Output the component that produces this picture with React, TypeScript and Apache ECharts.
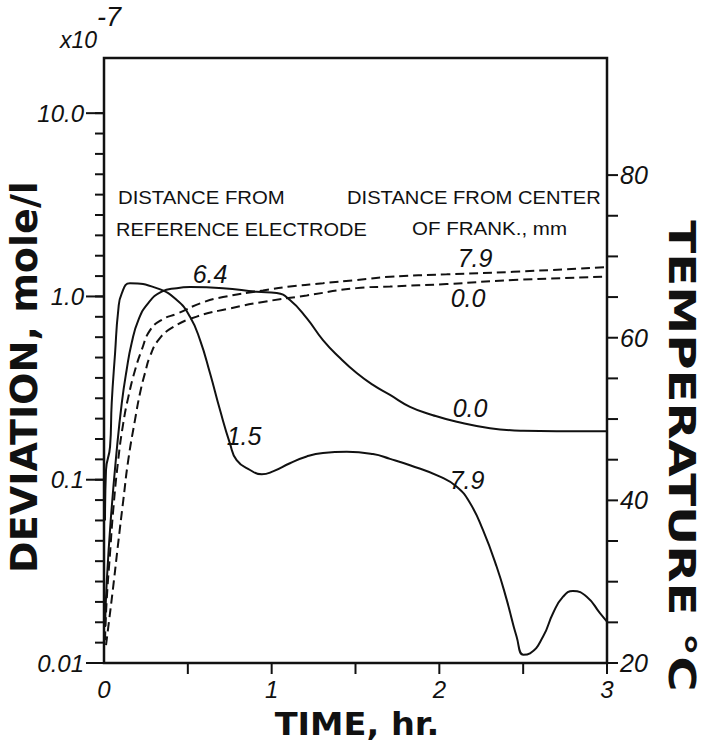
import React, { useEffect, useRef } from 'react';
import * as echarts from 'echarts';

// ---- Data ----
// Solid curve: early peak, labelled 1.5 ... 7.9 (deviation, x1e-7 mole/l)
const curveATime = [0.006, 0.012, 0.036, 0.046, 0.066, 0.085, 0.106, 0.155, 0.314, 0.434, 0.513, 0.573, 0.632, 0.692, 0.751, 0.791, 0.871, 0.941, 1.008, 1.109, 1.209, 1.306, 1.448, 1.604, 1.706, 1.825, 2.004, 2.104, 2.183, 2.26, 2.342, 2.402, 2.461, 2.501, 2.541, 2.618, 2.678, 2.738, 2.797, 2.879, 2.958, 3.0];
const curveADev = [0.06, 0.113, 0.151, 0.262, 0.49, 0.84, 1.04, 1.18, 1.11, 0.956, 0.775, 0.578, 0.382, 0.24, 0.158, 0.128, 0.113, 0.107, 0.111, 0.123, 0.134, 0.14, 0.142, 0.138, 0.13, 0.12, 0.104, 0.0916, 0.0746, 0.0532, 0.0335, 0.0221, 0.0139, 0.0111, 0.0113, 0.0139, 0.0187, 0.023, 0.0247, 0.023, 0.0187, 0.0168];
// Solid curve: plateau, labelled 6.4 ... 0.0
const curveBTime = [0.006, 0.016, 0.04, 0.076, 0.106, 0.135, 0.165, 0.205, 0.264, 0.344, 0.434, 0.513, 0.71, 0.911, 1.03, 1.109, 1.209, 1.306, 1.408, 1.507, 1.604, 1.706, 1.825, 1.962, 2.104, 2.302, 2.499, 2.7, 3.0];
const curveBDev = [0.0157, 0.0273, 0.06, 0.145, 0.262, 0.397, 0.557, 0.743, 0.92, 1.062, 1.11, 1.125, 1.11, 1.062, 1.044, 0.956, 0.762, 0.578, 0.461, 0.382, 0.329, 0.29, 0.25, 0.225, 0.207, 0.191, 0.185, 0.184, 0.184];
// Dashed temperature curves (°C), distance from center 7.9 mm and 0.0 mm
const temp79Time = [0.006, 0.016, 0.036, 0.055, 0.085, 0.115, 0.145, 0.185, 0.225, 0.274, 0.344, 0.441, 0.583, 0.71, 0.948, 1.109, 1.306, 1.507, 1.706, 2.044, 2.44, 3.0];
const temp79Val = [22.8, 27.7, 33.5, 38.8, 45.0, 49.5, 52.7, 56.0, 58.5, 60.9, 62.2, 63.0, 64.3, 65.0, 65.8, 66.3, 66.7, 67.1, 67.5, 67.8, 68.1, 68.7];
const temp00Time = [0.012, 0.026, 0.055, 0.085, 0.115, 0.145, 0.185, 0.215, 0.245, 0.274, 0.324, 0.404, 0.553, 0.751, 0.948, 1.209, 1.507, 1.706, 2.044, 2.44, 3.0];
const temp00Val = [22.2, 24.5, 29.4, 34.8, 40.0, 45.0, 49.9, 53.2, 55.7, 57.7, 59.7, 61.2, 62.6, 63.6, 64.4, 65.2, 66.1, 66.3, 66.6, 67.1, 67.5];

// ---- Ticks & labels ----
const timeTickValues = [0.5, 1, 1.5, 2, 2.5, 3];
const devMajorExps = [-2, -1, 0, 1];
const devMajorLabels = ['0.01', '0.1', '1.0', '10.0'];
const devMinorSteps = 9;
const devMinorExps: number[] = [];
for (let k = 0; k <= 27; k++) devMinorExps.push(-2 + k / devMinorSteps);
const tempTickValues = [20, 25, 30, 35, 40, 45, 50, 55, 60, 65, 70, 75, 80];
const tempLabelValues = [20, 40, 60, 80];

const zip = (a: number[], b: number[]) => a.map((v, i) => [v, b[i]]);

const INK = '#111';

export default function App() {
  const ref = useRef<HTMLDivElement>(null);
  useEffect(() => {
    if (!ref.current) return;
    const chart = echarts.init(ref.current, undefined, { renderer: 'svg' });
    const labelFont = { fontFamily: 'Liberation Sans', fontStyle: 'italic' as const, color: INK };
    const yMin = 0.01, yMax = 20;
    const hidden = { axisLine: { show: false, onZero: false }, axisTick: { show: false }, splitLine: { show: false } };
    const texts = [
      txt('x10', 60, 40, 23, 'left', { fontStyle: 'italic' }),
      txt('-7', 97, 17, 27, 'left', { fontStyle: 'italic' }),
      txt('DISTANCE FROM', 118, 198, 18, 'left', { scaleX: 1.13 }),
      txt('REFERENCE ELECTRODE', 116, 230, 18, 'left', { scaleX: 1.11 }),
      txt('DISTANCE FROM CENTER', 347, 198, 18, 'left', { scaleX: 1.12 }),
      txt('OF FRANK., mm', 412, 229, 18, 'left', { scaleX: 1.14 }),
      txt('6.4', 210, 274, 25, 'center', { fontStyle: 'italic' }),
      txt('7.9', 475, 258, 25, 'center', { fontStyle: 'italic' }),
      txt('0.0', 468, 298, 25, 'center', { fontStyle: 'italic' }),
      txt('1.5', 244, 436, 25, 'center', { fontStyle: 'italic' }),
      txt('0.0', 470, 408, 25, 'center', { fontStyle: 'italic' }),
      txt('7.9', 467, 480, 25, 'center', { fontStyle: 'italic' }),
      txt('TIME, hr.', 357, 724, 32, 'center', { fontWeight: 'bold', family: 'DejaVu Sans', scaleX: 1.05 }),
      txt('DEVIATION, mole/l', 24, 377, 37, 'center', { fontWeight: 'bold', family: 'DejaVu Sans', scaleX: 1.03, rotation: Math.PI / 2 }),
      txt('TEMPERATURE °C', 682, 456, 38, 'center', { fontWeight: 'bold', family: 'DejaVu Sans', scaleX: 1.27, rotation: -Math.PI / 2 }),
    ];
    const option: any = {
      animation: false,
      backgroundColor: '#fff',
      grid: { left: 104, top: 58, width: 503, height: 605, show: true, borderColor: INK, borderWidth: 2.5, backgroundColor: 'transparent' },
      xAxis: {
        type: 'value', min: 0, max: 3, interval: 0.5, ...hidden,
        axisLabel: { formatter: (v: number) => (Number.isInteger(v) ? String(v) : ''), fontSize: 24, margin: 14, ...labelFont },
      },
      yAxis: [
        { type: 'log', logBase: 10, min: yMin, max: yMax, show: false, axisLine: { onZero: false } },
        {
          type: 'value', position: 'left', min: -2, max: Math.log10(yMax), interval: 1, ...hidden,
          axisLabel: {
            margin: 20, fontSize: 24, ...labelFont,
            formatter: (v: number) => devMajorLabels[devMajorExps.indexOf(v)] ?? '',
          },
        },
        {
          type: 'value', position: 'right', min: 20, max: 94.4, ...hidden,
          axisLabel: { customValues: tempLabelValues, margin: 13, fontSize: 25, ...labelFont, formatter: (v: number) => String(v) },
        },
      ],
      series: [
        { name: 'dev A', type: 'line', yAxisIndex: 0, data: zip(curveATime, curveADev), symbol: 'none', smooth: 0.5, lineStyle: { color: INK, width: 2 } },
        { name: 'dev B', type: 'line', yAxisIndex: 0, data: zip(curveBTime, curveBDev), symbol: 'none', smooth: 0.5, lineStyle: { color: INK, width: 2 } },
        { name: 'temp 7.9', type: 'line', yAxisIndex: 2, data: zip(temp79Time, temp79Val), symbol: 'none', smooth: 0.5, lineStyle: { color: INK, width: 2, type: [9, 5] } },
        { name: 'temp 0.0', type: 'line', yAxisIndex: 2, data: zip(temp00Time, temp00Val), symbol: 'none', smooth: 0.5, lineStyle: { color: INK, width: 2, type: [9, 5] } },
      ],
      graphic: texts,
    };
    chart.setOption(option);

    // tick marks as thin filled bars, positioned through the axes' own scales
    const ticks: any[] = [];
    const bar = (x: number, y: number, w: number, h: number) => ({
      type: 'rect', z: 90, silent: true,
      shape: { x, y, width: w, height: h }, style: { fill: INK, stroke: 'none' },
    });
    const px = (finder: any, v: number) => {
      const r: any = chart.convertToPixel(finder, v);
      return Array.isArray(r) ? r[0] : Number(r);
    };
    const xLeft = px({ xAxisIndex: 0 }, 0);
    const xRight = px({ xAxisIndex: 0 }, 3);
    const yBottom = px({ yAxisIndex: 2 }, 20);
    devMinorExps.forEach((e) => {
      const y = px({ yAxisIndex: 1 }, e);
      ticks.push(bar(xLeft - 9, y - 1, 9, 2));
    });
    devMajorExps.forEach((e) => {
      const y = px({ yAxisIndex: 1 }, e);
      ticks.push(bar(xLeft - 18, y - 1, 18, 2));
    });
    tempTickValues.forEach((t) => {
      const y = px({ yAxisIndex: 2 }, t);
      ticks.push(bar(xRight, y - 1, 11, 2));
    });
    timeTickValues.forEach((t) => {
      const x = px({ xAxisIndex: 0 }, t);
      ticks.push(bar(x - 1, yBottom, 2, 11));
    });
    chart.setOption({ graphic: [...texts, ...ticks] });
    return () => chart.dispose();
  }, []);
  return <div ref={ref} style={{ position: 'absolute', left: 0, top: 0, width: 703, height: 742, background: '#fff' }} />;
}

function txt(text: string, x: number, y: number, size: number, align: string, o: any = {}) {
  return {
    type: 'text', x, y, rotation: o.rotation || 0, scaleX: o.scaleX || 1, scaleY: 1, z: 100,
    style: {
      text, fill: INK, fontSize: size, fontFamily: o.family || 'Liberation Sans',
      fontStyle: o.fontStyle || 'normal', fontWeight: o.fontWeight || 'normal',
      textAlign: align, align, textVerticalAlign: 'middle', verticalAlign: 'middle',
    },
  };
}
